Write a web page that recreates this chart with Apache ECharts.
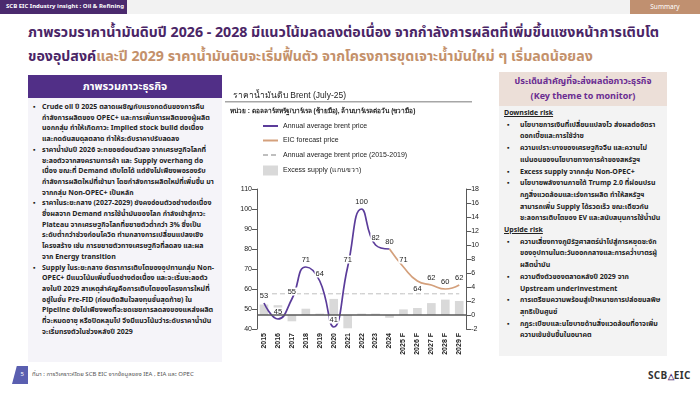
<!DOCTYPE html>
<html><head><meta charset="utf-8">
<script src="https://cdn.jsdelivr.net/npm/echarts@6/dist/echarts.min.js"></script>
<style>
html,body{margin:0;padding:0;background:#fff;width:700px;height:394px;overflow:hidden;font-family:"Noto Sans Thai","Noto Sans","Liberation Sans",sans-serif;}
.abs{position:absolute;}
#topstrip{left:0;top:0;width:700px;height:14px;background:#f2f2f2;}
#tag{left:0;top:0;width:127px;height:14px;background:#4b2a6e;color:#fff;font-size:6px;line-height:14px;padding-left:6px;box-sizing:border-box;white-space:nowrap;font-weight:bold;}
#summary{left:630px;top:0;width:70px;height:14px;background:#c09070;color:#fff;font-size:6.5px;line-height:14px;text-align:center;}
.title{left:28px;font-size:14.2px;font-weight:bold;white-space:nowrap;color:#4a2566;line-height:20px;}
#t1{top:23px;}
#t2{top:47px;}
#t2 span{color:#c4916b;}
#lhead{left:28px;top:75px;width:194px;height:23px;background:#512f87;color:#fff;font-weight:bold;font-size:11px;line-height:23px;text-align:center;}
#lbody{left:28px;top:98px;width:194px;height:264px;background:#f5f4f9;}
#lbody ul{margin:0;padding:4px 8px 0 14px;list-style:none;}
#lbody li{position:relative;font-size:7px;line-height:10.7px;color:#222;font-weight:bold;}
#lbody li:before{content:"\25AA";position:absolute;left:-9px;top:0;font-size:7px;}
#rhead{left:499px;top:72px;width:168px;height:34px;background:#ecdfd8;color:#6a2c91;font-weight:bold;font-size:9px;line-height:14.5px;text-align:center;padding-top:2px;box-sizing:border-box;}
#rbody{left:499px;top:106px;width:168px;height:250px;background:#f3f3f3;}
#rbody .h{font-size:7px;line-height:11.7px;text-decoration:underline;font-weight:bold;color:#222;padding-left:5px;}
#rbody ul{margin:0;padding:0 6px 0 21px;list-style:none;}
#rbody li{position:relative;font-size:7px;line-height:11.7px;color:#222;font-weight:bold;}
#rbody li:before{content:"\25AA";position:absolute;left:-13px;top:0;font-size:7px;}
#badge{left:12px;top:366px;width:16px;height:18px;background:#5a5fb0;clip-path:polygon(30% 0,100% 0,100% 100%,0 100%);color:#fff;font-size:6px;line-height:18px;text-align:right;padding-right:4px;box-sizing:border-box;}
#src{left:32px;top:370px;font-size:6px;color:#555;white-space:nowrap;line-height:10px;}
#logo{left:648px;top:369px;font-size:10px;font-weight:bold;color:#333;white-space:nowrap;line-height:14px;letter-spacing:0.3px;}
#chart{left:222px;top:80px;width:260px;height:290px;}
</style></head>
<body>
<div id="topstrip" class="abs"></div>
<div id="tag" class="abs">SCB EIC Industry insight : Oil &amp; Refining</div>
<div id="summary" class="abs">Summary</div>
<div id="t1" class="abs title">ภาพรวมราคาน้ำมันดิบปี 2026 - 2028 มีแนวโน้มลดลงต่อเนื่อง จากกำลังการผลิตที่เพิ่มขึ้นแซงหน้าการเติบโต</div>
<div id="t2" class="abs title">ของอุปสงค์<span>และปี 2029 ราคาน้ำมันดิบจะเริ่มฟื้นตัว จากโครงการขุดเจาะน้ำมันใหม่ ๆ เริ่มลดน้อยลง</span></div>
<div id="lhead" class="abs">ภาพรวมภาวะธุรกิจ</div>
<div id="lbody" class="abs"><ul>
<li>Crude oil ปี 2025 ตลาดเผชิญกับแรงกดดันของการคืนกำลังการผลิตของ OPEC+ และการเพิ่มการผลิตของผู้ผลิตนอกกลุ่ม ทำให้เกิดภาวะ Implied stock build ต่อเนื่องและกดดันสมดุลตลาด ทำให้ระดับราคาปรับลดลง</li>
<li>ราคาน้ำมันปี 2026 จะทยอยอ่อนตัวลง จากเศรษฐกิจโลกที่ชะลอตัวจากสงครามการค้า และ Supply overhang ต่อเนื่อง ขณะที่ Demand เติบโตได้ แต่ยังไม่เพียงพอรองรับกำลังการผลิตใหม่ที่เข้ามา โดยกำลังการผลิตใหม่ที่เพิ่มขึ้น มาจากกลุ่ม Non-OPEC+ เป็นหลัก</li>
<li>ราคาในระยะกลาง (2027-2029) ยังคงอ่อนตัวอย่างต่อเนื่อง ซึ่งผลจาก Demand การใช้น้ำมันของโลก กำลังเข้าสู่ภาวะ Plateau จากเศรษฐกิจโลกที่ขยายตัวต่ำกว่า 3% ซึ่งเป็นระดับต่ำกว่าช่วงก่อนโควิด ท่ามกลางการเปลี่ยนแปลงเชิงโครงสร้าง เช่น การขยายตัวทางเศรษฐกิจที่ลดลง และผลจาก Energy transition</li>
<li>Supply ในระยะกลาง อัตราการเติบโตของอุปทานกลุ่ม Non-OPEC+ มีแนวโน้มเพิ่มขึ้นอย่างต่อเนื่อง และจะเริ่มชะลอตัวลงในปี 2029 สาเหตุสำคัญคือการเติบโตของโครงการใหม่ที่อยู่ในขั้น Pre-FID (ก่อนตัดสินใจลงทุนขั้นสุดท้าย) ใน Pipeline ยังไม่เพียงพอที่จะชดเชยการลดลงของแหล่งผลิตที่จะหมดอายุ หรือปิดหลุมไป จึงมีแนวโน้มว่าระดับราคาน้ำมันจะเริ่มทรงตัวในช่วงหลังปี 2029</li>
</ul></div>
<div id="rhead" class="abs">ประเด็นสำคัญที่จะส่งผลต่อภาวะธุรกิจ<br>(Key theme to monitor)</div>
<div id="rbody" class="abs">
<div class="h" style="padding-top:2px">Downside risk</div>
<ul>
<li>นโยบายการเงินที่เปลี่ยนแปลงไว ส่งผลต่ออัตราดอกเบี้ยและการใช้จ่าย</li>
<li>ความเปราะบางของเศรษฐกิจจีน และความไม่แน่นอนของนโยบายทางการค้าของสหรัฐฯ</li>
<li>Excess supply จากกลุ่ม Non-OPEC+</li>
<li>นโยบายพลังงานภายใต้ Trump 2.0 ที่ผ่อนปรนกฎสิ่งแวดล้อมและเร่งการผลิต ทำให้สหรัฐฯ สามารถเพิ่ม Supply ได้รวดเร็ว ขณะเดียวกัน ชะลอการเติบโตของ EV และสนับสนุนการใช้น้ำมัน</li>
</ul>
<div class="h">Upside risk</div>
<ul>
<li>ความเสี่ยงทางภูมิรัฐศาสตร์นำไปสู่การหยุดชะงักของอุปทานในตะวันออกกลางและการคว่ำบาตรผู้ผลิตน้ำมัน</li>
<li>ความตึงตัวของตลาดหลังปี 2029 จาก Upstream underinvestment</li>
<li>การเตรียมความพร้อมสู่เป้าหมายการปล่อยมลพิษสุทธิเป็นศูนย์</li>
<li>กฎระเบียบและนโยบายด้านสิ่งแวดล้อมที่อาจเพิ่มความเข้มข้นขึ้นในอนาคต</li>
</ul></div>
<div id="badge" class="abs">5</div>
<div id="src" class="abs">ที่มา : การวิเคราะห์โดย SCB EIC จากข้อมูลของ IEA , EIA และ OPEC</div>
<div id="logo" class="abs">SCB<span style="font-size:8px;color:#4b2a6e">△</span>EIC</div>
<div id="chart" class="abs"></div>
<script>
var years = ['2015','2016','2017','2018','2019','2020','2021','2022','2023','2024','2025 F','2026 F','2027 F','2028 F','2029 F'];
var actualPrice = [53,45,55,71,64,41,71,100,82,80,null,null,null,null,null];
var forecastPrice = [null,null,null,null,null,null,null,null,null,80,71,64,62,60,62];
var avg1519 = [57.6,57.6,57.6,57.6,57.6,57.6,57.6,57.6,57.6,57.6,57.6,57.6,57.6,57.6,57.6];
var excessSupply = [1.5,1.4,-0.9,0.9,0.2,2.3,-1.9,0.2,0.2,-0.4,0.8,1.0,1.7,2.2,2.0];
var leftTicks = {min:40,max:110,interval:10};
var rightTicks = {min:-2,max:18,interval:2};
var belowLabelIdx = [11];

var chart = echarts.init(document.getElementById('chart'));
var lblBase = {show:true,position:'top',distance:3,fontSize:7.5,color:'#222',backgroundColor:'#fff',padding:[0,1],fontFamily:'Liberation Sans'};
function lineData(arr){
  return arr.map(function(v,i){
    if(v===null) return null;
    var o={value:v};
    if(belowLabelIdx.indexOf(i)>=0) o.label={position:'bottom'};
    return o;
  });
}
chart.setOption({
  animation:false,
  title:[{text:'ราคาน้ำมันดิบ Brent (July-25)',left:6,top:6,textStyle:{fontSize:8.5,fontWeight:'normal',color:'#222'}},
         {text:'หน่วย : ดอลลาร์สหรัฐ/บาร์เรล (ซ้ายมือ), ล้านบาร์เรลต่อวัน (ขวามือ)',left:3,top:23,textStyle:{fontSize:6.5,fontWeight:'bold',color:'#222'}}],
  graphic:[{type:'rect',shape:{x:3,y:21,width:247,height:1.5},style:{fill:'#a6a6a6'}}],
  legend:{orient:'vertical',left:35,top:37,itemWidth:15,itemHeight:10,itemGap:6.5,
    textStyle:{fontSize:7,color:'#222',fontFamily:'Liberation Sans'},
    data:[{name:'Annual average brent price'},{name:'EIC forecast price'},{name:'Annual average brent price (2015-2019)'},{name:'Excess supply (แกนขวา)',icon:'rect'}]},
  grid:{left:35,top:109,width:212,height:140},
  xAxis:{type:'category',data:years,axisLine:{show:false},axisTick:{show:false},
    axisLabel:{rotate:90,fontSize:7,fontWeight:'bold',color:'#222',margin:4,interval:0,fontFamily:'Liberation Sans'}},
  yAxis:[{type:'value',min:leftTicks.min,max:leftTicks.max,interval:leftTicks.interval,splitLine:{show:false},
      axisLine:{show:true,lineStyle:{color:'#595959'}},axisTick:{show:true,lineStyle:{color:'#595959'}},
      axisLabel:{fontSize:7,color:'#222',margin:5,fontFamily:'Liberation Sans'}},
    {type:'value',min:rightTicks.min,max:rightTicks.max,interval:rightTicks.interval,splitLine:{show:false},position:'right',
      axisLine:{show:true,lineStyle:{color:'#595959'}},axisTick:{show:true,lineStyle:{color:'#595959'}},
      axisLabel:{fontSize:7,color:'#222',margin:5,fontFamily:'Liberation Sans'}}],
  series:[
    {name:'Excess supply (แกนขวา)',type:'bar',yAxisIndex:1,data:excessSupply,barWidth:'62%',itemStyle:{color:'#d9d9d9'},z:1,
      markLine:{silent:true,symbol:'none',label:{show:false},lineStyle:{color:'#595959',type:'solid',width:1.5},data:[{yAxis:0}]}},
    {name:'Annual average brent price (2015-2019)',type:'line',data:avg1519,symbol:'circle',symbolSize:0,showSymbol:false,lineStyle:{color:'#bfbfbf',width:1,type:[5,3]},itemStyle:{color:'rgba(0,0,0,0)'},z:2},
    {name:'Annual average brent price',type:'line',data:lineData(actualPrice),smooth:0.5,symbol:'circle',symbolSize:1,showSymbol:true,
      lineStyle:{color:'#5b3c9a',width:1.7},itemStyle:{color:'rgba(0,0,0,0)'},label:lblBase,z:3},
    {name:'EIC forecast price',type:'line',data:lineData(forecastPrice),smooth:0.5,symbol:'circle',symbolSize:1,showSymbol:true,
      lineStyle:{color:'#d4a07c',width:1.7},itemStyle:{color:'rgba(0,0,0,0)'},label:lblBase,z:3}
  ]
});
</script>
</body></html>
